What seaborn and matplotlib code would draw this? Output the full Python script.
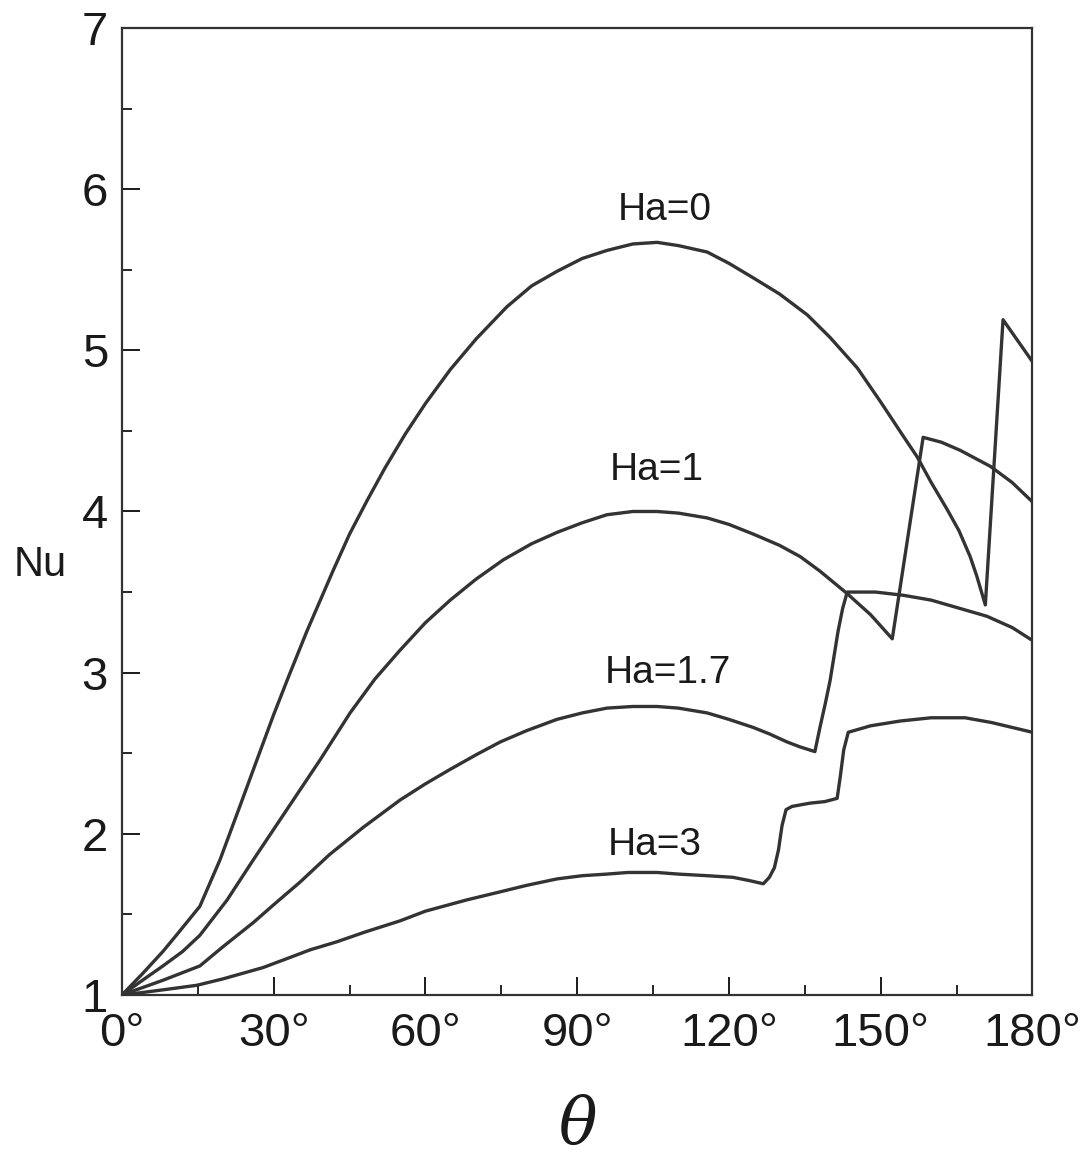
import numpy as np
import pandas as pd
import matplotlib
matplotlib.use("Agg")
import matplotlib.pyplot as plt
import seaborn as sns

# ---- data ----
theta_ha0 = [0, 4, 8.1, 11, 15.4, 19.4, 23.3, 26.7, 30, 33, 36.6, 41.7, 45, 48.5, 52, 56,
             60, 64.9, 70, 76.1, 81, 86, 91, 95.9, 101, 105.8, 110, 115.7, 120, 124.8, 130,
             135.5, 140, 145.4, 150, 154, 157.2, 160, 163.2, 165.5, 167.7, 169, 170.7,
             174.2, 180]
nu_ha0 = [1, 1.13, 1.27, 1.38, 1.55, 1.84, 2.17, 2.46, 2.74, 2.98, 3.26, 3.63, 3.86,
          4.07, 4.27, 4.48, 4.67, 4.88, 5.07, 5.27, 5.40, 5.49, 5.57, 5.62, 5.66, 5.67, 5.65,
          5.61, 5.54, 5.45, 5.35, 5.22, 5.08, 4.89, 4.68, 4.49, 4.34, 4.18, 4.01, 3.88, 3.72,
          3.60, 3.42, 5.19, 4.93]

theta_ha1 = [0, 4, 8.1, 12, 15.4, 20.8, 26, 32.6, 39.2, 45.1, 50, 55, 60, 64.9, 70, 75.4, 81, 86,
             91, 95.9, 101, 105.8, 110, 115.7, 120, 124.8, 130, 134.1, 138, 143.4, 148, 152.3,
             158.4, 162, 165.7, 171.7, 176, 180]
nu_ha1 = [1, 1.09, 1.18, 1.27, 1.37, 1.59, 1.84, 2.15, 2.46, 2.75, 2.96, 3.14, 3.31, 3.45, 3.58,
          3.70, 3.80, 3.87, 3.93, 3.98, 4.0, 4.0, 3.99, 3.96, 3.92, 3.86, 3.79, 3.72, 3.63,
          3.49, 3.36, 3.21, 4.46, 4.43, 4.38, 4.28, 4.18, 4.06]

theta_ha17 = [0, 4, 8, 15.4, 20, 26, 30, 35.2, 41, 47.7, 55, 60, 64.9, 70, 74.8, 80, 86, 91, 95.9,
              101, 105.8, 110, 115.7, 120, 124.8, 128, 131.5, 134, 137, 138, 139, 140, 141.6,
              142.5, 143.4, 149, 154.5, 160, 164.4, 171, 176, 180]
nu_ha17 = [1, 1.045, 1.09, 1.18, 1.30, 1.45, 1.56, 1.70, 1.87, 2.04, 2.21, 2.31, 2.40, 2.49, 2.57,
           2.64, 2.71, 2.75, 2.78, 2.79, 2.79, 2.78, 2.75, 2.71, 2.66, 2.62, 2.57, 2.54, 2.51,
           2.66, 2.80, 2.95, 3.26, 3.40, 3.50, 3.50, 3.48, 3.45, 3.41, 3.35, 3.28, 3.20]

theta_ha3 = [0, 4, 8.9, 14.8, 20, 27.9, 33, 37.2, 42.5, 48, 55, 60, 68.2, 74.8, 80, 86, 91, 95.9,
             100, 105.8, 110, 115.7, 120.8, 124, 126.8, 128, 129, 129.8, 130.5, 131.3, 132.5,
             136, 139, 141.4, 142, 142.7, 143.6, 148, 153.9, 160, 166.7, 172, 180]
nu_ha3 = [1, 1.015, 1.035, 1.06, 1.10, 1.17, 1.23, 1.28, 1.33, 1.39, 1.46, 1.52, 1.59, 1.64, 1.68,
          1.72, 1.74, 1.75, 1.76, 1.76, 1.75, 1.74, 1.73, 1.71, 1.69, 1.73, 1.79, 1.90, 2.05,
          2.15, 2.17, 2.19, 2.20, 2.22, 2.35, 2.52, 2.63, 2.67, 2.70, 2.72, 2.72, 2.69, 2.63]

series_names = ["Ha=0", "Ha=1", "Ha=1.7", "Ha=3"]
label_theta = [107.4, 105.8, 108.0, 105.4]
label_nu = [5.87, 4.26, 3.00, 1.93]

x_ticks = [0, 30, 60, 90, 120, 150, 180]
x_ticklabels = ["0°", "30°", "60°", "90°", "120°", "150°", "180°"]
y_ticks = [1, 2, 3, 4, 5, 6, 7]

# ---- build long table ----
frames = []
for name, th, nu in zip(series_names,
                        [theta_ha0, theta_ha1, theta_ha17, theta_ha3],
                        [nu_ha0, nu_ha1, nu_ha17, nu_ha3]):
    frames.append(pd.DataFrame({"theta": th, "Nu": nu, "Ha": name}))
df = pd.concat(frames, ignore_index=True)

sns.set_style("ticks")
plt.rcParams['font.family'] = ['Liberation Sans', 'DejaVu Sans']
plt.rcParams['mathtext.fontset'] = 'dejavuserif'

fig = plt.figure(figsize=(10.89, 11.58), dpi=100)
ax = fig.add_axes([0.112, 0.1408, 0.836, 0.835])

line_color = "#333333"
sns.lineplot(data=df, x="theta", y="Nu", units="Ha", estimator=None, sort=False,
             color=line_color, linewidth=2.4, ax=ax, legend=False)

for name, tx, ty in zip(series_names, label_theta, label_nu):
    ax.text(tx, ty, name, ha="center", va="center", fontsize=28, color="#1a1a1a")

ax.set_xlim(0, 180)
ax.set_ylim(1, 7)
ax.set_xticks(x_ticks)
ax.set_xticklabels(x_ticklabels)
ax.set_yticks(y_ticks)
ax.set_xticks(np.arange(15, 180, 30), minor=True)
ax.set_yticks(np.arange(1.5, 7, 1), minor=True)
ax.tick_params(which="major", direction="in", length=13, width=1.4, labelsize=34,
               colors="#1a1a1a", pad=10)
ax.tick_params(which="minor", direction="in", length=7, width=1.4)
ax.tick_params(axis="x", pad=12)
for s in ax.spines.values():
    s.set_linewidth(1.6)
    s.set_color("#333333")

ax.set_xlabel("")
ax.set_ylabel("")
fig.text(40 / 1089, 1 - 565 / 1158, "Nu", ha="center", va="center", fontsize=30, color="#1a1a1a")
fig.text(578 / 1089, 1 - 1125 / 1158, r"$\theta$", ha="center", va="center", fontsize=46,
         color="#1a1a1a")

fig.savefig("out.png", dpi=100)
